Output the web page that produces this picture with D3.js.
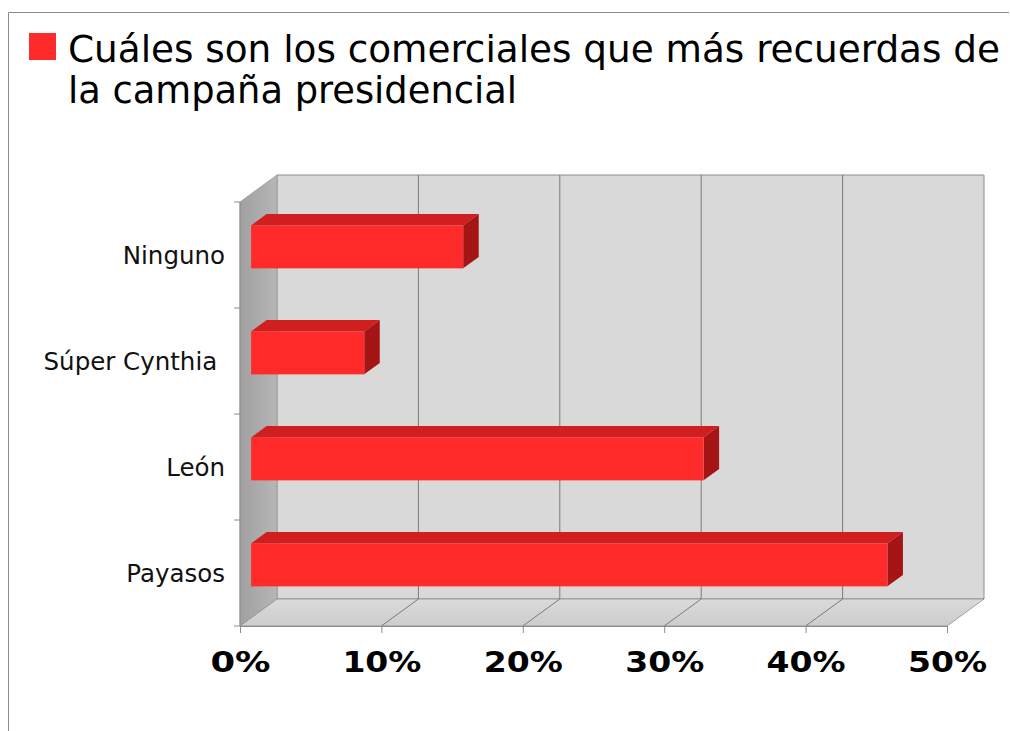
<!DOCTYPE html>
<html>
<head>
<meta charset="utf-8">
<script src="https://cdn.jsdelivr.net/npm/d3@7"></script>
<style>
  html, body { margin: 0; padding: 0; background: #ffffff; }
  svg { display: block; }
</style>
</head>
<body>
<svg id="chart" width="1010" height="731"></svg>
<script>
// Survey: which campaign commercials people remember most
const categories = ["Ninguno", "Súper Cynthia", "León", "Payasos"];
const values = [15, 8, 32, 45];           // percent
const tickValues = [0, 10, 20, 30, 40, 50];
const tickLabels = ["0%", "10%", "20%", "30%", "40%", "50%"];
const titleLines = ["Cuáles son los comerciales que más recuerdas de", "la campaña presidencial"];

const svg = d3.select("#chart");

// frame around the whole chart
svg.append("path")
  .attr("d", "M8.5,731 V12.5 H1009")
  .attr("fill", "none").attr("stroke", "#8a8a8a").attr("stroke-width", 1);

// front plane scales
const x = d3.scaleLinear().domain([0, 50]).range([240, 947]);
const y = d3.scaleBand().domain(categories).range([202, 626]).padding(0);

// 3D depth: offset of the back plane
const DX = 37, DY = -27;
const P = (px, py, t) => [px + DX * t, py + DY * t];
const poly = pts => "M" + pts.map(p => p.join(",")).join("L") + "Z";

const x0 = x(0), x1 = x(50), yTop = y.range()[0], yBot = y.range()[1];

// gradients for the walls
const defs = svg.append("defs");
const gWall = defs.append("linearGradient").attr("id", "leftWall")
  .attr("x1", 0).attr("x2", 1).attr("y1", 0).attr("y2", 0);
gWall.append("stop").attr("offset", 0).attr("stop-color", "#a0a0a0");
gWall.append("stop").attr("offset", 1).attr("stop-color", "#b6b6b6");
const gFloor = defs.append("linearGradient").attr("id", "floor")
  .attr("x1", 0).attr("x2", 0).attr("y1", 1).attr("y2", 0);
gFloor.append("stop").attr("offset", 0).attr("stop-color", "#cdcdcd");
gFloor.append("stop").attr("offset", 1).attr("stop-color", "#dadada");

// back wall
svg.append("path")
  .attr("d", poly([P(x0, yTop, 1), P(x1, yTop, 1), P(x1, yBot, 1), P(x0, yBot, 1)]))
  .attr("fill", "#d9d9d9").attr("stroke", "#8c8c8c").attr("stroke-width", 1);

// left wall
svg.append("path")
  .attr("d", poly([P(x0, yTop, 0), P(x0, yTop, 1), P(x0, yBot, 1), P(x0, yBot, 0)]))
  .attr("fill", "url(#leftWall)").attr("stroke", "#9a9a9a").attr("stroke-width", 0.8);

// floor
svg.append("path")
  .attr("d", poly([P(x0, yBot, 0), P(x1, yBot, 0), P(x1, yBot, 1), P(x0, yBot, 1)]))
  .attr("fill", "url(#floor)").attr("stroke", "#8c8c8c").attr("stroke-width", 0.8);

// gridlines on the back wall and floor
const grid = svg.append("g").attr("stroke", "#7a7a7a").attr("stroke-width", 1).attr("fill", "none");
tickValues.slice(1, -1).forEach(v => {
  const a = P(x(v), yTop, 1), b = P(x(v), yBot, 1), c = P(x(v), yBot, 0);
  grid.append("path").attr("d", `M${a}L${b}L${c}`);
});

// bars as 3D boxes
const T0 = 0.3, T1 = 0.72, BAR = 0.405;
const bars = svg.append("g");
categories.forEach((cat, i) => {
  const v = values[i];
  const cy = y(cat) + y.bandwidth() / 2;
  const h = y.bandwidth() * BAR;
  const yt = cy - h / 2, yb = cy + h / 2;
  const xl = x(0), xr = x(v);
  // top face
  bars.append("path")
    .attr("d", poly([P(xl, yt, T0), P(xr, yt, T0), P(xr, yt, T1), P(xl, yt, T1)]))
    .attr("fill", "#d01f1f");
  // right face
  bars.append("path")
    .attr("d", poly([P(xr, yt, T0), P(xr, yt, T1), P(xr, yb, T1), P(xr, yb, T0)]))
    .attr("fill", "#a51515");
  // front face
  const f0 = P(xl, yt, T0), f1 = P(xr, yb, T0);
  bars.append("rect")
    .attr("x", f0[0]).attr("y", f0[1])
    .attr("width", f1[0] - f0[0]).attr("height", f1[1] - f0[1])
    .attr("fill", "#ff2b2b");
});

// left axis line with separators between categories
const axisColor = "#8c8c8c";
svg.append("line")
  .attr("x1", x0).attr("x2", x0).attr("y1", yTop).attr("y2", yBot)
  .attr("stroke", axisColor);
const seps = categories.map(c => y(c)).concat([yBot]);
svg.append("g").selectAll("line").data(seps).join("line")
  .attr("x1", x0 - 6).attr("x2", x0).attr("y1", d => d).attr("y2", d => d)
  .attr("stroke", axisColor);

// category labels
svg.append("g").selectAll("text").data(categories).join("text")
  .attr("x", 225).attr("y", d => y(d) + y.bandwidth() / 2 + 9)
  .attr("text-anchor", "end")
  .attr("font-family", "DejaVu Sans, Verdana, sans-serif")
  .attr("font-size", 24.5)
  .attr("fill", "#111")
  .style("white-space", "pre")
  .text(d => d === "Súper Cynthia" ? d + " " : d);

// bottom axis
const xAxis = d3.axisBottom(x).tickValues(tickValues).tickSize(7).tickSizeOuter(0)
  .tickFormat((d, i) => tickLabels[i]);
const ax = svg.append("g").attr("transform", `translate(0,${yBot})`).call(xAxis);
ax.select(".domain").attr("stroke", axisColor);
ax.selectAll(".tick line").attr("stroke", axisColor);
ax.selectAll(".tick text")
  .attr("y", 46).attr("dy", 0)
  .attr("font-family", "DejaVu Sans, Verdana, sans-serif")
  .attr("font-weight", "bold")
  .attr("font-size", 28.5)
  .attr("fill", "#000")
  .attr("textLength", (d, i) => tickLabels[i].length === 2 ? 60 : 79)
  .attr("lengthAdjust", "spacingAndGlyphs");

// legend swatch and title
svg.append("rect").attr("x", 29).attr("y", 33).attr("width", 27).attr("height", 27)
  .attr("fill", "#ff2b2b");
const titleWidths = [932, 449];
svg.append("g").selectAll("text").data(titleLines).join("text")
  .attr("x", 68).attr("y", (d, i) => 62 + i * 41)
  .attr("font-family", "DejaVu Sans Condensed, DejaVu Sans, sans-serif")
  .attr("font-stretch", "condensed")
  .attr("font-size", 38)
  .attr("fill", "#000")
  .attr("textLength", (d, i) => titleWidths[i])
  .attr("lengthAdjust", "spacingAndGlyphs")
  .text(d => d);
</script>
</body>
</html>
